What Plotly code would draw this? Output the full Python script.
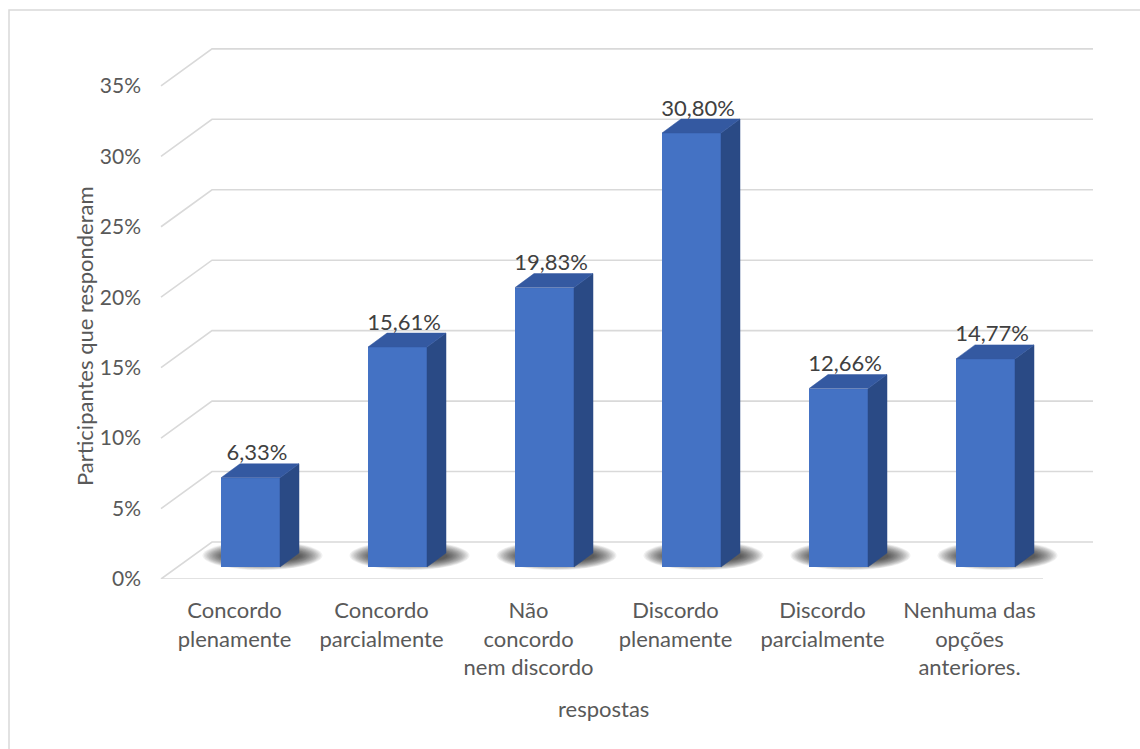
import plotly.graph_objects as go

categories = ["Concordo<br>plenamente", "Concordo<br>parcialmente", "Não<br>concordo<br>nem discordo",
              "Discordo<br>plenamente", "Discordo<br>parcialmente", "Nenhuma das<br>opções<br>anteriores."]
values = [6.33, 15.61, 19.83, 30.80, 12.66, 14.77]
y_ticks = [0, 5, 10, 15, 20, 25, 30, 35]
y_tick_labels = ["0%", "5%", "10%", "15%", "20%", "25%", "30%", "35%"]
y_title = "Participantes que responderam"
x_title = "respostas"

W, H = 1140, 749
PL, PR, PB, PT = 150, 1100, 579, 40
PXX = 147.0          # px per category
X0 = 234.5           # px of category 0 centre (front)
PXY = 14.09          # px per percent


def dxu(p):
    return p / PXX


def dyu(p):
    return p / PXY


xr = [(PL - X0) / PXX, (PR - X0) / PXX]
yr = [0, (PB - PT) / PXY]

FRONT = "#4472C4"
TOP = "#3459A1"
SIDE = "#2A4A85"
GRID = "#D9D9D9"
TXT = "#595959"
FONT = "Lato"
FS = 22

WX, WY = 51, 37           # wall depth in px
FX, FY = 16, 12           # bar front offset in px
BW = 59                   # bar width px
BDX, BDY = 19, 14         # bar depth px

n = len(values)
b = dyu(FY)
shapes = []

# gridlines (left wall diagonal + back wall)
for t in y_ticks:
    x_a = -0.5
    x_b = -0.5 + dxu(WX)
    x_c = n - 0.5 + dxu(WX - 1)
    path = f"M {x_a} {t} L {x_b} {t + dyu(WY)} L {x_c} {t + dyu(WY)}"
    shapes.append(dict(type="path", path=path, xref="x", yref="y", layer="below",
                       line=dict(color=GRID, width=1.6)))
shapes.append(dict(type="path", path=f"M -0.5 0 L {n - 0.5} 0", xref="x", yref="y", layer="below",
                   line=dict(color=GRID, width=1.6)))

# soft shadows on the floor (layered ellipses)
NL = 16
for i, v in enumerate(values):
    scx = i + dxu(FX + 12)
    scy = b + dyu(9)
    for k in range(NL):
        f = k / (NL - 1)
        rx = 60 - 22 * f
        ry_top = 17 - 9 * f
        ry_bot = 12 - 8 * f
        shapes.append(dict(type="circle", xref="x", yref="y", layer="below",
                           x0=scx - dxu(rx), x1=scx + dxu(rx),
                           y0=scy - dyu(ry_bot), y1=scy + dyu(ry_top),
                           fillcolor="rgba(0,0,0,0.06)",
                           line=dict(width=0, color="rgba(0,0,0,0)")))

# chart border
shapes.append(dict(type="rect", xref="paper", yref="paper",
                   x0=(9 - PL) / (PR - PL), x1=(W + 5 - PL) / (PR - PL),
                   y0=(PB - (H + 5)) / (PB - PT), y1=(PB - 10) / (PB - PT),
                   line=dict(color=GRID, width=1.5)))

fig = go.Figure()

# front faces
fig.add_trace(go.Bar(
    x=[i + dxu(FX) for i in range(n)], y=values, base=[b] * n, width=dxu(BW),
    marker=dict(color=FRONT, line=dict(width=0)), hoverinfo="skip", showlegend=False))

# side and top faces
for i, v in enumerate(values):
    cx = i + dxu(FX)
    xl = cx - dxu(BW / 2)
    xrr = cx + dxu(BW / 2)
    top = b + v
    fig.add_trace(go.Scatter(
        x=[xrr, xrr + dxu(BDX), xrr + dxu(BDX), xrr, xrr],
        y=[b, b + dyu(BDY), top + dyu(BDY), top, b],
        fill="toself", fillcolor=SIDE, mode="lines", line=dict(width=0.5, color=SIDE),
        hoverinfo="skip", showlegend=False))
    fig.add_trace(go.Scatter(
        x=[xl, xrr, xrr + dxu(BDX), xl + dxu(BDX), xl],
        y=[top, top, top + dyu(BDY), top + dyu(BDY), top],
        fill="toself", fillcolor=TOP, mode="lines", line=dict(width=0.5, color=TOP),
        hoverinfo="skip", showlegend=False))

# data labels
fig.add_trace(go.Scatter(
    x=[i + dxu(FX + BDX / 2 - 3) for i in range(n)],
    y=[b + v + dyu(BDY - 2) for v in values],
    mode="text", text=[f"{v:.2f}%".replace(".", ",") for v in values],
    textposition="top center", textfont=dict(family=FONT, size=FS, color="#404040"),
    hoverinfo="skip", showlegend=False, cliponaxis=False))

fig.update_layout(
    width=W, height=H,
    margin=dict(l=PL, r=W - PR, t=PT, b=H - PB),
    paper_bgcolor="white", plot_bgcolor="white",
    font=dict(family=FONT, size=FS, color=TXT),
    shapes=shapes,
    bargap=0,
    annotations=[
        dict(text=y_title, textangle=-90, xref="paper", yref="paper",
             x=(84 - PL) / (PR - PL), y=(PB - 336) / (PB - PT), showarrow=False,
             xanchor="center", yanchor="middle",
             font=dict(family=FONT, size=FS, color=TXT)),
        dict(text=x_title, xref="paper", yref="paper",
             x=(603 - PL) / (PR - PL), y=(PB - 708) / (PB - PT), showarrow=False,
             xanchor="center", yanchor="middle",
             font=dict(family=FONT, size=FS, color=TXT)),
    ],
)
fig.update_xaxes(range=xr, tickvals=list(range(n)), ticktext=categories, showgrid=False,
                 zeroline=False, showline=False, ticks="", ticklabelstandoff=16,
                 tickfont=dict(family=FONT, size=FS, color=TXT), fixedrange=True)
fig.update_yaxes(range=yr, tickvals=y_ticks, ticktext=y_tick_labels, showgrid=False, zeroline=False,
                 showline=False, ticks="", ticklabelstandoff=8,
                 tickfont=dict(family=FONT, size=FS - 1, color=TXT), fixedrange=True)

fig.write_html("out.html")
